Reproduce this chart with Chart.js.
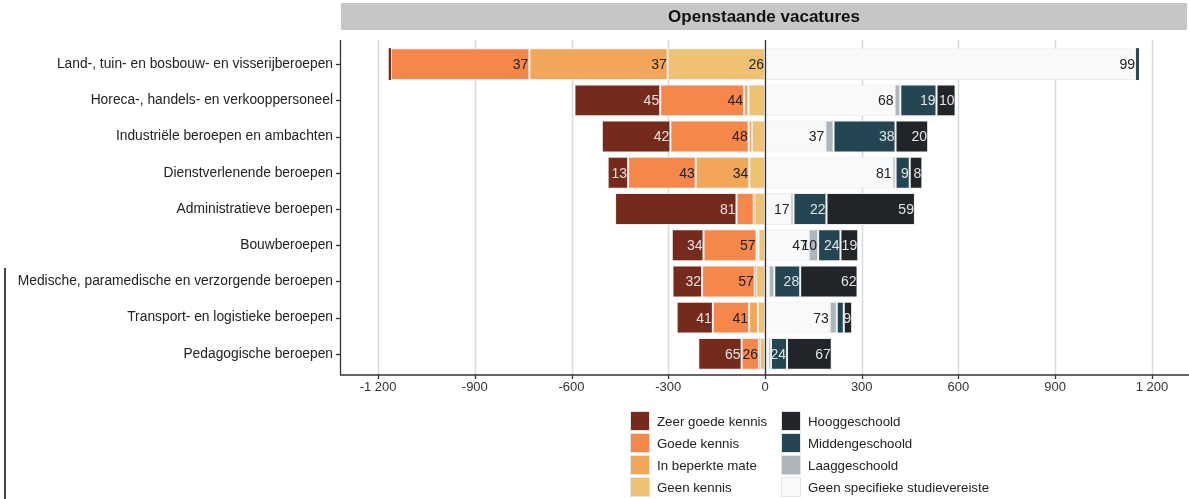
<!DOCTYPE html>
<html lang="nl">
<head>
<meta charset="utf-8">
<title>Openstaande vacatures</title>
<script src="https://cdn.jsdelivr.net/npm/chart.js@4/dist/chart.umd.min.js"></script>
<style>
    html, body { margin: 0; padding: 0; background: #fff; }
    #wrap { position: relative; width: 1189px; height: 499px; }
    #side-line { position: absolute; left: 4px; top: 268px; width: 2px; height: 231px; background: #444; }
    .lg-item { position: absolute; height: 21px; font: 13.3px "Liberation Sans", Arial, sans-serif; color: #222; white-space: nowrap; }
    .lg-box { position: absolute; left: 0; top: 0; width: 20px; height: 20px; border: 1px solid #e4e4e4; box-sizing: border-box; }
    .lg-text { position: absolute; left: 27px; top: 3px; }
</style>
</head>
<body>
<div id="wrap">
    <canvas id="vacatures-chart"></canvas>
    <div id="side-line"></div>
    <div id="legend"></div>
</div>
<script>
(function(){
    'use strict';
// --------data------
    const beroepen = [
        'Land-, tuin- en bosbouw- en visserijberoepen',
        'Horeca-, handels- en verkooppersoneel',
        'Industriële beroepen en ambachten',
        'Dienstverlenende beroepen',
        'Administratieve beroepen',
        'Bouwberoepen',
        'Medische, paramedische en verzorgende beroepen',
        'Transport- en logistieke beroepen',
        'Pedagogische beroepen'
    ];
    // aantal openstaande vacatures per beroepsgroep
    const totalen = [1160, 591, 506, 488, 465, 289, 287, 274, 207];

    // taalkennis (% van vacatures) - links
    const zeerGoedeKennis = [0.6, 45, 42, 13, 81, 34, 32, 41, 65];
    const goedeKennis     = [37, 44, 48, 43, 11.5, 57, 57, 41, 26];
    const beperkteMate    = [37, 2.3, 2, 34, 0.5, 2, 1, 10, 1];
    const geenKennis      = [26, 8.7, 8, 10, 7, 7, 10, 8, 8];

    // studieniveau (% van vacatures) - rechts
    const geenVereiste     = [99.2, 68, 37, 81, 17, 47, 4, 73.4, 5];
    const laaggeschoold    = [0, 3, 5, 2, 2, 10, 6, 7.9, 4];
    const middengeschoold  = [0.8, 19, 38, 9, 22, 24, 28, 7.9, 24];
    const hooggeschoold    = [0, 10, 20, 8, 59, 19, 62, 9.4, 67];

    const xTicks = [-1200, -900, -600, -300, 0, 300, 600, 900, 1200];

    const minLinks = 12;   // kleinere labels links niet tonen
    const minRechts = 8;

    const fontFam = '"Liberation Sans", Arial, sans-serif';
    const panelTop = 40;
    const panelBottom = 375;

    function naarAantal(pcts, teken){
        let out = [];
        for(let i = 0; i < pcts.length; i++){
            out.push(teken * totalen[i] * pcts[i] / 100);
        }
        return out;
    }

    function maakSet(label, pcts, teken, kleur, tekstKleur){
        return {
            label: label,
            data: naarAantal(pcts, teken),
            pcts: pcts,
            kant: teken,
            tekstKleur: tekstKleur,
            backgroundColor: kleur,
            borderColor: '#ececec',
            borderWidth: function(c){ return pcts[c.dataIndex] < 1.5 ? 0 : 1; },
            borderSkipped: false,
            barPercentage: 0.88,
            categoryPercentage: 1,
            stack: 's'
        };
    }

    // volgorde = vanaf de nul naar buiten
    const datasets = [
        maakSet('Geen kennis', geenKennis, -1, '#EEC272', '#222'),
        maakSet('In beperkte mate', beperkteMate, -1, '#F2A65A', '#222'),
        maakSet('Goede kennis', goedeKennis, -1, '#F5874A', '#222'),
        maakSet('Zeer goede kennis', zeerGoedeKennis, -1, '#762A1B', '#e4e4e4'),
        maakSet('Geen specifieke studievereiste', geenVereiste, 1, '#F8F9FA', '#222'),
        maakSet('Laaggeschoold', laaggeschoold, 1, '#ADB5BD', '#222'),
        maakSet('Middengeschoold', middengeschoold, 1, '#244652', '#e4e4e4'),
        maakSet('Hooggeschoold', hooggeschoold, 1, '#212529', '#e4e4e4')
    ];

    function fmtGetal(v){
        const s = Math.abs(v).toString().replace(/\B(?=(\d{3})+(?!\d))/g, ' ');
        return (v < 0 ? '-' : '') + s;
    }

    // ----panel, grid, titel
    const panelPlugin = {
        id: 'panel',
        beforeDatasetsDraw(chart){
            const ctx = chart.ctx;
            const a = chart.chartArea;
            const xs = chart.scales.x;
            ctx.save();
            // titelstrook
            ctx.fillStyle = '#c6c6c6';
            ctx.fillRect(a.left, 3, chart.width - a.left - 2, 27);
            ctx.fillStyle = '#111';
            ctx.font = 'bold 17px ' + fontFam;
            ctx.textAlign = 'center';
            ctx.textBaseline = 'middle';
            ctx.fillText('Openstaande vacatures', (a.left + chart.width - 2) / 2, 17);
            // gridlijnen
            ctx.strokeStyle = '#dadada';
            ctx.lineWidth = 1.5;
            xTicks.forEach(function(t){
                const px = Math.round(xs.getPixelForValue(t)) + 0.5;
                ctx.beginPath();
                ctx.moveTo(px, panelTop);
                ctx.lineTo(px, panelBottom);
                ctx.stroke();
            });
            ctx.restore();
        },
        afterDatasetsDraw(chart){
            const ctx = chart.ctx;
            const a = chart.chartArea;
            const xs = chart.scales.x;
            const ys = chart.scales.y;
            ctx.save();
            ctx.strokeStyle = '#333';
            ctx.lineWidth = 1.3;
            const nul = Math.round(xs.getPixelForValue(0)) + 0.5;
            ctx.beginPath();
            ctx.moveTo(nul, panelTop);
            ctx.lineTo(nul, panelBottom);
            ctx.stroke();
            // assen
            ctx.beginPath();
            ctx.moveTo(a.left - 0.5, panelTop);
            ctx.lineTo(a.left - 0.5, panelBottom);
            ctx.lineTo(a.right, panelBottom);
            ctx.stroke();
            xTicks.forEach(function(t){
                const px = Math.round(xs.getPixelForValue(t)) + 0.5;
                ctx.beginPath();
                ctx.moveTo(px, panelBottom);
                ctx.lineTo(px, panelBottom + 4);
                ctx.stroke();
            });
            for(let i = 0; i < beroepen.length; i++){
                const py = Math.round(ys.getPixelForValue(i)) + 0.5;
                ctx.beginPath();
                ctx.moveTo(a.left - 5, py);
                ctx.lineTo(a.left - 1, py);
                ctx.stroke();
            }

            // ----waardelabels
            ctx.font = '14px ' + fontFam;
            ctx.textAlign = 'right';
            ctx.textBaseline = 'middle';
            chart.data.datasets.forEach(function(ds, di){
                const meta = chart.getDatasetMeta(di);
                meta.data.forEach(function(bar, i){
                    const p = ds.pcts[i];
                    const grens = ds.kant < 0 ? minLinks : minRechts;
                    if(p < grens){ return; }
                    const rechts = Math.max(bar.x, bar.base);
                    ctx.fillStyle = ds.tekstKleur;
                    ctx.fillText(String(Math.round(p)), rechts - 1, bar.y + 1);
                });
            });
            ctx.restore();
        }
    };

    const chart = new Chart('vacatures-chart', {
        type: 'bar',
        data: {
            labels: beroepen,
            datasets: datasets
        },
        options: {
            indexAxis: 'y',
            responsive: true,
            maintainAspectRatio: false,
            animation: false,
            layout: { padding: { top: 46, right: 0, bottom: 0, left: 0 } },
            plugins: {
                legend: { display: false },
                tooltip: { enabled: false }
            },
            scales: {
                x: {
                    type: 'linear',
                    stacked: true,
                    min: -1315,
                    max: 1315,
                    afterFit: function(scale){ scale.height = 127; },
                    afterBuildTicks: function(scale){
                        scale.ticks = xTicks.map(function(v){ return { value: v }; });
                    },
                    grid: { display: false, drawTicks: false },
                    border: { display: false },
                    ticks: {
                        padding: 8,
                        color: '#333',
                        font: { family: fontFam, size: 13 },
                        maxRotation: 0,
                        autoSkip: false,
                        callback: function(v){ return fmtGetal(v); }
                    }
                },
                y: {
                    stacked: true,
                    afterFit: function(scale){ scale.width = 341; },
                    grid: { display: false, drawTicks: false },
                    border: { display: false },
                    ticks: {
                        padding: 8,
                        color: '#222',
                        font: { family: fontFam, size: 13.8 },
                        autoSkip: false
                    }
                }
            }
        },
        plugins: [panelPlugin]
    });

    // ----legenda (twee kolommen)
    const kolommen = [
        ['Zeer goede kennis', 'Goede kennis', 'In beperkte mate', 'Geen kennis'],
        ['Hooggeschoold', 'Middengeschoold', 'Laaggeschoold', 'Geen specifieke studievereiste']
    ];
    const kolomX = [630, 781];
    const legend = document.getElementById('legend');
    kolommen.forEach(function(kol, k){
        kol.forEach(function(naam, r){
            const ds = chart.data.datasets.find(function(d){ return d.label === naam; });
            const item = document.createElement('div');
            item.className = 'lg-item';
            item.style.left = kolomX[k] + 'px';
            item.style.top = (411 + r * 22) + 'px';
            item.innerHTML = '<span class="lg-box" style="background:' + ds.backgroundColor + '"></span>' +
                '<span class="lg-text">' + naam + '</span>';
            legend.appendChild(item);
        });
    });
}());
</script>
</body>
</html>
